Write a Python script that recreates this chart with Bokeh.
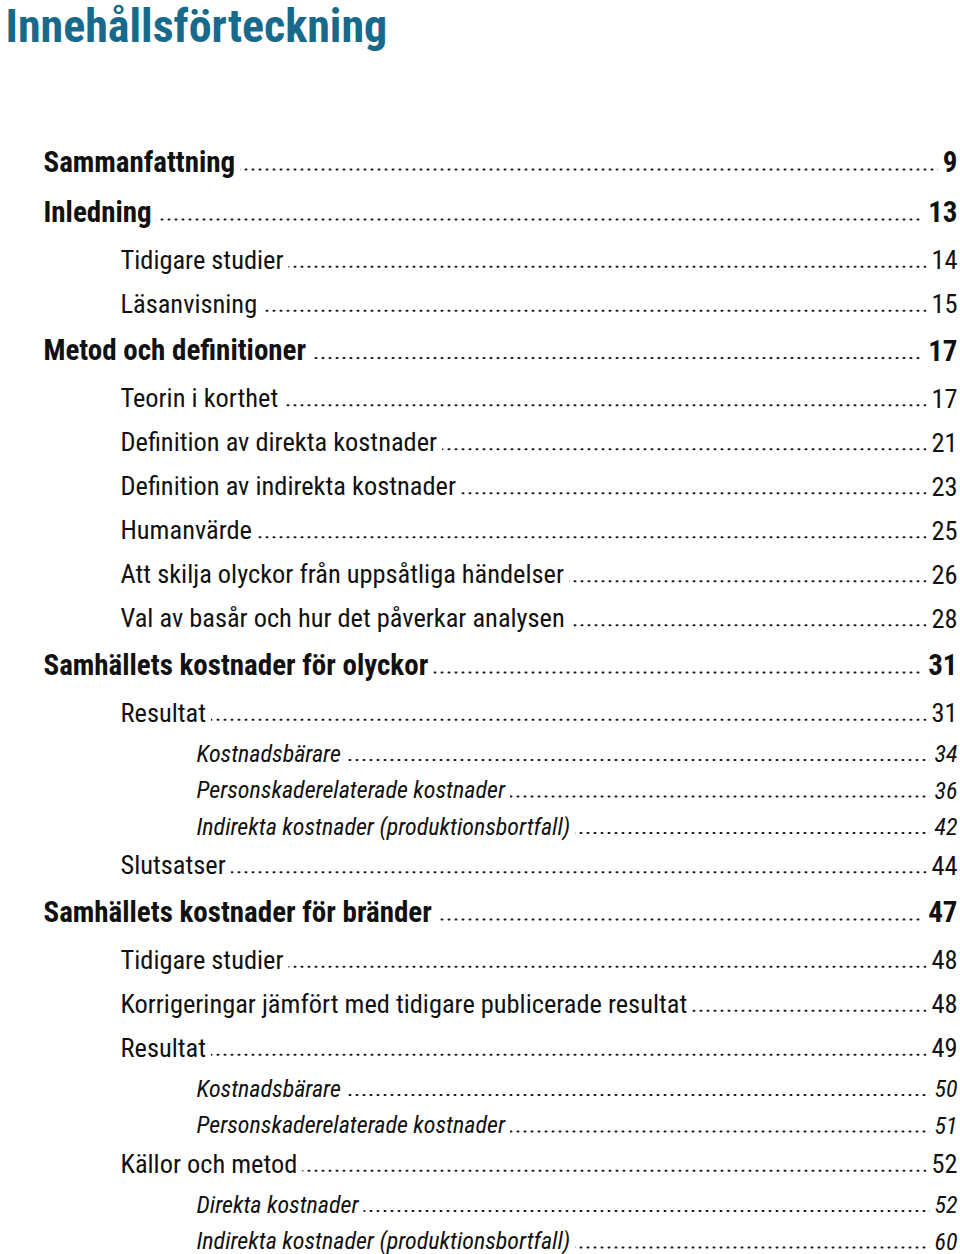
from bokeh.plotting import figure
from bokeh.models import Range1d, ColumnDataSource
from bokeh.core.properties import value
from bokeh.embed import file_html
from bokeh.resources import INLINE

title = "Innehållsförteckning"

levels = [0, 0, 1, 1, 0, 1, 1, 1, 1, 1, 1, 0, 1, 2, 2, 2, 1, 0, 1, 1, 1, 2, 2, 1, 2, 2]
entries = [
    "Sammanfattning",
    "Inledning",
    "Tidigare studier",
    "Läsanvisning",
    "Metod och definitioner",
    "Teorin i korthet",
    "Definition av direkta kostnader",
    "Definition av indirekta kostnader",
    "Humanvärde",
    "Att skilja olyckor från uppsåtliga händelser",
    "Val av basår och hur det påverkar analysen",
    "Samhällets kostnader för olyckor",
    "Resultat",
    "Kostnadsbärare",
    "Personskaderelaterade kostnader",
    "Indirekta kostnader (produktionsbortfall)",
    "Slutsatser",
    "Samhällets kostnader för bränder",
    "Tidigare studier",
    "Korrigeringar jämfört med tidigare publicerade resultat",
    "Resultat",
    "Kostnadsbärare",
    "Personskaderelaterade kostnader",
    "Källor och metod",
    "Direkta kostnader",
    "Indirekta kostnader (produktionsbortfall)",
]
pages = ["9", "13", "14", "15", "17", "17", "21", "23", "25", "26", "28", "31", "31",
         "34", "36", "42", "44", "47", "48", "48", "49", "50", "51", "52", "52", "60"]

# ---- layout / style ----
FONT = "'Roboto Condensed', 'DejaVu Sans Condensed', 'Liberation Sans Narrow', Roboto, sans-serif"
W, H = 960, 1254
indent = {0: 43, 1: 120, 2: 196}
size = {0: 29, 1: 26.4, 2: 24}
style = {0: "bold", 1: "normal", 2: "italic"}
gap = {(0, 0): 50, (0, 1): 48, (1, 1): 44, (1, 0): 46.5,
       (1, 2): 41, (2, 2): 36.5, (2, 1): 38.5}
RIGHT = 957
PAD = 5

ys = []
y = 161
for i, lv in enumerate(levels):
    if i > 0:
        y += gap[(levels[i - 1], lv)]
    ys.append(y)

p = figure(width=W, height=H, output_backend="svg", toolbar_location=None,
           x_range=Range1d(0, W), y_range=Range1d(H, 0),
           min_border=0, outline_line_color=None)
p.axis.visible = False
p.grid.visible = False
p.background_fill_color = "white"
p.border_fill_color = "white"

# title
p.text(x=[5], y=[25], text=[title], text_font=value(FONT), text_font_size="46px",
       text_font_style="bold", text_color="#176a8c", text_baseline="middle",
       text_align="left")

for lv in (0, 1, 2):
    idx = [i for i, l in enumerate(levels) if l == lv]
    fs = size[lv]
    src = ColumnDataSource(dict(
        x=[indent[lv]] * len(idx),
        x0=[indent[lv] + 20] * len(idx),
        x1=[RIGHT - 4] * len(idx),
        y=[ys[i] for i in idx],
        yd=[ys[i] + 0.33 * fs - 1.5 for i in idx],
        t=[entries[i] for i in idx],
        pg=[pages[i] for i in idx],
        xr=[RIGHT] * len(idx),
    ))
    p.segment(x0="x0", y0="yd", x1="x1", y1="yd", source=src, line_color="#1a1a1a",
              line_width=2, line_dash="1 6", line_cap="round")
    p.text(x="x", y="y", text="t", source=src, text_font=value(FONT),
           text_font_size=f"{fs}px", text_font_style=style[lv], text_color="#111111",
           text_baseline="middle", text_align="left",
           background_fill_color="white",
           padding=dict(left=0, right=PAD, top=0, bottom=0))
    p.text(x="xr", y="y", text="pg", source=src, text_font=value(FONT),
           text_font_size=f"{fs}px", text_font_style=style[lv], text_color="#111111",
           text_baseline="middle", text_align="right",
           background_fill_color="white",
           padding=dict(left=PAD, right=0, top=0, bottom=0))

open("out.html", "w").write(file_html(p, INLINE))
